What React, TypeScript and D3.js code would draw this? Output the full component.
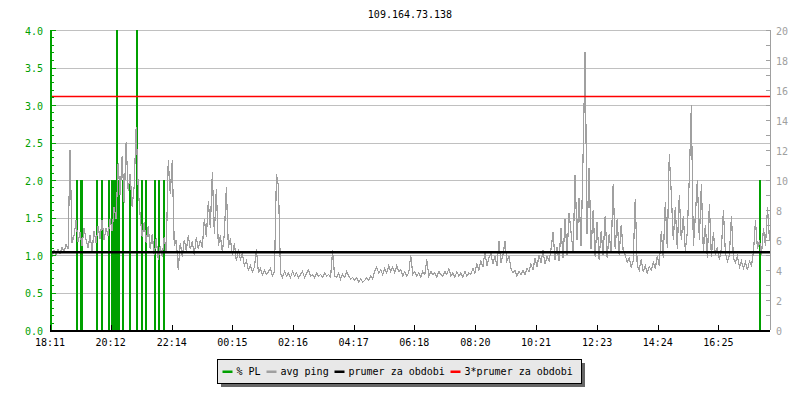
import React from "react";
import * as d3 from "d3";

// ---------- data ----------
const TITLE = "109.164.73.138";
const START_LABEL = "18:11";
const X_TICK_LABELS = ["18:11", "20:12", "22:14", "00:15", "02:16", "04:17", "06:18", "08:20", "10:21", "12:23", "14:24", "16:25"];
const TOTAL_MINUTES = 1437;
const SAMPLE_STEP_MIN = 4;

const LEFT_TICKS = [0, 0.5, 1, 1.5, 2, 2.5, 3, 3.5, 4];
const RIGHT_TICKS = [0, 2, 4, 6, 8, 10, 12, 14, 16, 18, 20];

// avg ping (ms), one value every 4 minutes
const PING = [
  4.6, 4.9, 5.3, 5.0, 5.4, 5.1, 5.5, 5.2, 5.7, 5.4, 12.0, 5.8, 6.3, 7.3, 5.9, 6.5, 5.6, 6.8, 6.0, 5.5,
  6.3, 5.3, 6.6, 5.8, 6.9, 6.1, 7.3, 6.0, 6.8, 6.3, 7.4, 6.6, 8.2, 7.4, 11.1, 9.0, 11.6, 8.5, 12.5, 9.3,
  10.4, 8.2, 9.6, 13.5, 9.5, 7.6, 6.2, 7.2, 5.8, 6.9, 5.4, 6.4, 5.0, 6.1, 4.7, 5.6, 4.9, 6.2, 5.2, 11.3,
  9.1, 11.3, 5.6, 6.0, 4.0, 5.8, 4.9, 6.0, 5.3, 6.3, 5.4, 5.9, 5.0, 6.2, 5.4, 6.0, 5.5, 7.4, 6.2, 8.6,
  6.8, 10.5, 6.4, 9.4, 5.6, 6.3, 5.2, 6.4, 9.5, 5.5, 6.1, 5.0, 5.8, 4.6, 5.4, 4.7, 5.1, 4.3, 4.6, 4.0,
  4.3, 3.9, 4.2, 5.4, 3.8, 4.1, 3.7, 4.0, 3.7, 3.9, 4.1, 3.6, 3.9, 10.4, 9.6, 3.8, 3.5, 3.9, 3.6, 3.8,
  3.5, 3.9, 3.6, 3.8, 3.5, 3.7, 3.9, 3.5, 3.8, 4.0, 3.6, 3.7, 3.5, 3.8, 3.6, 3.7, 3.5, 3.8, 3.6, 3.7,
  3.5, 5.3, 3.6, 3.5, 3.8, 3.4, 3.7, 3.5, 3.9, 3.6, 3.4, 3.5, 3.3, 3.5, 3.2, 3.4, 3.2, 3.3, 3.5, 3.3,
  3.6, 3.4, 3.9, 4.2, 3.8, 4.0, 3.7, 4.1, 3.8, 4.3, 3.9, 4.2, 3.8, 4.3, 3.9, 4.0, 3.6, 3.9, 3.6, 3.8,
  5.0, 3.7, 3.9, 3.6, 3.8, 3.5, 3.9, 3.7, 4.7, 3.6, 3.9, 3.7, 3.8, 3.5, 3.9, 3.7, 3.6, 3.9, 3.7, 4.1,
  3.6, 3.8, 3.5, 3.9, 3.6, 3.8, 3.5, 3.9, 3.6, 3.8, 3.7, 4.1, 3.8, 4.4, 4.0, 4.6, 4.2, 5.2, 4.3, 4.8,
  5.1, 4.4, 4.9, 4.3, 5.9, 4.5, 5.0, 5.9, 4.6, 4.9, 4.1, 3.8, 4.0, 3.6, 3.9, 3.7, 4.0, 3.7, 4.1, 3.9,
  4.4, 4.0, 4.8, 4.2, 5.0, 4.5, 5.3, 4.4, 4.9, 4.6, 5.4, 6.5, 4.7, 5.5, 4.6, 6.8, 4.8, 7.4, 5.0, 7.8,
  6.5, 5.2, 10.3, 6.0, 8.8, 5.6, 11.7, 18.5, 6.4, 10.8, 5.4, 8.0, 4.9, 7.2, 4.7, 6.6, 5.0, 7.6, 4.8, 6.4,
  5.2, 9.7, 5.4, 7.4, 5.0, 7.0, 5.3, 5.0, 4.5, 4.8, 4.2, 4.6, 8.7, 4.3, 4.0, 4.7, 3.9, 4.3, 3.8, 4.2,
  4.0, 4.5, 4.1, 4.9, 4.3, 6.6, 4.8, 8.5, 5.5, 11.7, 9.1, 6.0, 8.2, 5.4, 9.0, 6.0, 7.6, 5.3, 6.5, 10.2,
  15.0, 5.6, 7.6, 10.0, 6.0, 9.7, 5.2, 7.0, 4.8, 8.4, 4.9, 6.5, 5.0, 5.5, 4.7, 5.4, 8.0, 5.1, 4.6, 5.0,
  7.6, 4.8, 4.5, 4.9, 4.2, 4.6, 4.1, 4.5, 4.0, 4.6, 4.3, 5.2, 7.3, 5.4, 6.0, 5.0, 6.8, 5.6, 8.2, 6.0,
];

// packet loss events (minutes from start, % loss)
const PL_MINUTES = [54, 61, 63, 93, 103, 117, 124, 127, 129, 131, 133, 135, 137, 145, 160, 173, 183, 192, 209, 217, 227, 1418];
const PL_VALUES = [2, 2, 2, 2, 2, 2, 2, 2, 2, 2, 4, 2, 2, 2, 2, 4, 2, 2, 2, 2, 2, 2];

const AVG_PING = 5.19;
const LEGEND_LABELS = ["% PL", "avg ping", "prumer za obdobi", "3*prumer za obdobi"];
const LEGEND_COLORS = ["#00a000", "#a0a0a0", "#000000", "#ff0000"];

// ---------- component ----------
const FONT = "'DejaVu Sans Mono', monospace";
const GREEN = "#00a000";
const GREY = "#a0a0a0";

function minutesFrom(label: string): number {
  const [h, m] = label.split(":").map(Number);
  const [sh, sm] = START_LABEL.split(":").map(Number);
  let d = h * 60 + m - (sh * 60 + sm);
  if (d < 0) d += 1440;
  return d;
}

export default function App() {
  const W = 800, H = 400;
  const L = 50, R = 770, T = 30, B = 330;
  const x = d3.scaleLinear().domain([0, TOTAL_MINUTES]).range([L, R]);
  const yL = d3.scaleLinear().domain([0, 4]).range([B, T]);
  const yR = d3.scaleLinear().domain([0, 20]).range([B, T]);

  const pingLine = d3
    .line<number>()
    .x((_, i) => x(i * SAMPLE_STEP_MIN))
    .y((d) => yR(d))
    .curve(d3.curveLinear);

  const leftMinor = d3.range(0, 4.0001, 0.1);
  const rightMinor = d3.range(0, 21, 1);

  // legend layout
  const charW = 6.02;
  const legendItems: { x: number; label: string; color: string }[] = [];
  let lx = 222.5;
  LEGEND_LABELS.forEach((lab, i) => {
    legendItems.push({ x: lx, label: lab, color: LEGEND_COLORS[i] });
    lx += 10 + 4 + lab.length * 6 + 6;
  });
  const legendRight = lx - 6 + 9;

  return (
    <svg
      width={W}
      height={H}
      style={{ position: "absolute", left: 0, top: 0, background: "#fff" }}
      fontFamily={FONT}
      fontSize={10}
    >
      <rect x={0} y={0} width={W} height={H} fill="#fff" />
      <text x={(L + R) / 2} y={17.5} textAnchor="middle" fill="#000">
        {TITLE}
      </text>

      {/* grid */}
      <g shapeRendering="crispEdges">
        {LEFT_TICKS.map((t) => (
          <line key={"g" + t} x1={L} x2={R} y1={Math.round(yL(t)) + 0.5} y2={Math.round(yL(t)) + 0.5} stroke="#c0c0c0" />
        ))}
      </g>

      {/* packet loss bars */}
      <g shapeRendering="crispEdges">
        {PL_MINUTES.map((m, i) => (
          <rect key={"pl" + i} x={Math.round(x(m)) - 1} width={2} y={yL(PL_VALUES[i])} height={B - yL(PL_VALUES[i])} fill={GREEN} />
        ))}
      </g>

      {/* ping */}
      <path d={pingLine(PING) || ""} fill="none" stroke={GREY} strokeWidth={1.2} shapeRendering="crispEdges" />

      {/* average lines */}
      <line x1={L} x2={R} y1={yR(AVG_PING)} y2={yR(AVG_PING)} stroke="#000" strokeWidth={2.5} />
      <line x1={L} x2={R} y1={yR(AVG_PING * 3)} y2={yR(AVG_PING * 3)} stroke="#ff0000" strokeWidth={1.5} />

      {/* left axis */}
      <g shapeRendering="crispEdges">
        <line x1={L + 1} x2={L + 1} y1={T} y2={B} stroke={GREEN} strokeWidth={2} />
        {leftMinor.map((t, i) => (
          <line key={"lm" + i} x1={L} x2={L + 4} y1={Math.round(yL(t)) + 0.5} y2={Math.round(yL(t)) + 0.5} stroke={GREEN} />
        ))}
        {LEFT_TICKS.map((t) => (
          <line key={"lM" + t} x1={L} x2={L + 6} y1={Math.round(yL(t)) + 0.5} y2={Math.round(yL(t)) + 0.5} stroke={GREEN} />
        ))}
      </g>
      {LEFT_TICKS.map((t) => (
        <text key={"lt" + t} x={43} y={yL(t) + 4.5} textAnchor="end" fill={GREEN}>
          {t.toFixed(1)}
        </text>
      ))}

      {/* right axis */}
      <g shapeRendering="crispEdges">
        <line x1={R + 0.5} x2={R + 0.5} y1={T} y2={B} stroke={GREY} />
        {rightMinor.map((t) => (
          <line key={"rm" + t} x1={R - 4} x2={R} y1={Math.round(yR(t)) + 0.5} y2={Math.round(yR(t)) + 0.5} stroke={GREY} />
        ))}
      </g>
      {RIGHT_TICKS.map((t) => (
        <text key={"rt" + t} x={776} y={yR(t) + 5} textAnchor="start" fill={GREY}>
          {t}
        </text>
      ))}

      {/* x axis */}
      <g shapeRendering="crispEdges">
        <line x1={L} x2={R} y1={B + 0.5} y2={B + 0.5} stroke="#000" strokeWidth={2} />
        {X_TICK_LABELS.map((lab) => (
          <line key={"xt" + lab} x1={Math.round(x(minutesFrom(lab))) + 0.5} x2={Math.round(x(minutesFrom(lab))) + 0.5} y1={B - 5} y2={B} stroke="#000" />
        ))}
      </g>
      {X_TICK_LABELS.map((lab) => (
        <text key={"xl" + lab} x={x(minutesFrom(lab))} y={346} textAnchor="middle" fill="#000">
          {lab}
        </text>
      ))}

      {/* legend */}
      <g>
        <rect x={220.5} y={362.5} width={legendRight - 217.5} height={24} fill="#666" shapeRendering="crispEdges" />
        <rect x={217.5} y={359.5} width={legendRight - 217.5} height={24} fill="#e8e8e8" stroke="#000" shapeRendering="crispEdges" />
        {legendItems.map((it) => (
          <g key={it.label}>
            <rect x={it.x} y={370.5} width={10} height={2.5} fill={it.color} />
            <text x={it.x + 14} y={374.5} fill="#000" textLength={it.label.length * charW} lengthAdjust="spacingAndGlyphs">
              {it.label}
            </text>
          </g>
        ))}
      </g>
    </svg>
  );
}
